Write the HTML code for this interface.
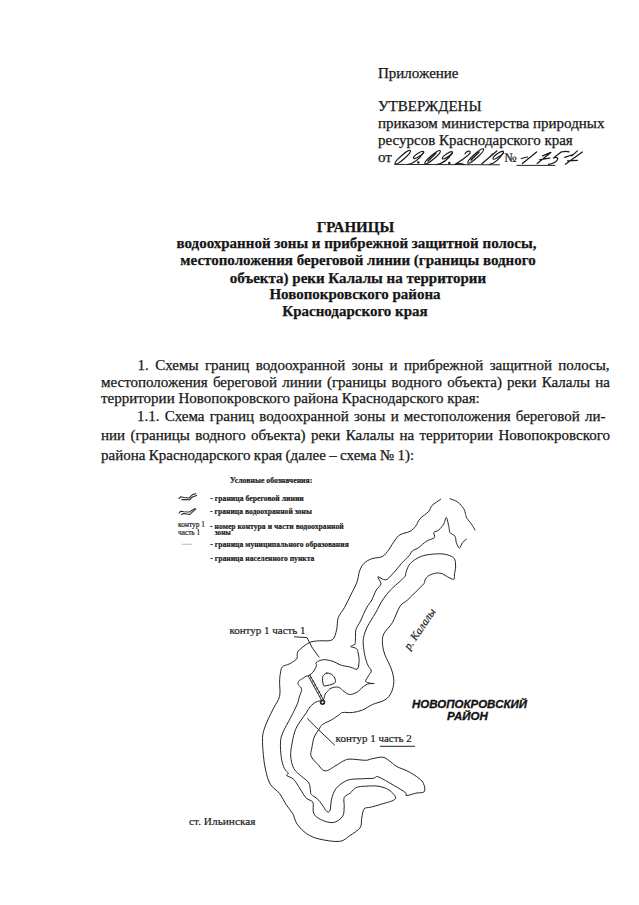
<!DOCTYPE html>
<html><head><meta charset="utf-8">
<style>
html,body{margin:0;padding:0;background:#fff;}
body{width:639px;height:905px;position:relative;overflow:hidden;font-family:"Liberation Serif",serif;color:#161616;}
.t{position:absolute;white-space:nowrap;font-size:15px;line-height:20px;height:20px;-webkit-text-stroke:0.25px #161616;}
.j{text-align:justify;text-align-last:justify;white-space:normal;}
.b{font-weight:bold;}
svg{position:absolute;left:0;top:0;}
</style></head><body>
<div class="t" style="left:378px;top:62.64px">Приложение</div>
<div class="t" style="left:378px;top:95.64px">УТВЕРЖДЕНЫ</div>
<div class="t" style="left:378px;top:112.94px">приказом министерства природных</div>
<div class="t" style="left:378px;top:129.64px">ресурсов Краснодарского края</div>
<div class="t" style="left:378px;top:147.24px">от</div>
<div class="t b" style="left:0;width:711px;text-align:center;top:217.44px">ГРАНИЦЫ</div>
<div class="t b" style="left:0;width:713px;text-align:center;top:233.44px">водоохранной зоны и прибрежной защитной полосы,</div>
<div class="t b" style="left:0;width:716px;text-align:center;top:250.24px">местоположения береговой линии (границы водного</div>
<div class="t b" style="left:0;width:716px;text-align:center;top:267.54px">объекта) реки Калалы на территории</div>
<div class="t b" style="left:0;width:710px;text-align:center;top:284.44px">Новопокровского района</div>
<div class="t b" style="left:0;width:710px;text-align:center;top:301.34px">Краснодарского края</div>
<div class="t j" style="left:137.5px;width:472px;top:354.54px">1. Схемы границ водоохранной зоны и прибрежной защитной полосы,</div>
<div class="t j" style="left:101px;width:509px;top:371.74px">местоположения береговой линии (границы водного объекта) реки Калалы на</div>
<div class="t" style="left:101px;top:388.44px">территории Новопокровского района Краснодарского края:</div>
<div class="t j" style="left:137px;width:468.5px;top:405.74px">1.1. Схема границ водоохранной зоны и местоположения береговой ли-</div>
<div class="t j" style="left:101px;width:509px;top:425.34px">нии (границы водного объекта) реки Калалы на территории Новопокровского</div>
<div class="t" style="left:101px;top:445.14px;word-spacing:-0.35px">района Краснодарского края (далее – схема № 1):</div>
<svg width="639" height="905" viewBox="0 0 639 905">
<g fill="none" stroke="#262626" stroke-width="1" stroke-linejoin="round" stroke-linecap="round">
<path d="M475.0 530.0 C474.4 529.0 472.7 525.8 471.3 523.8 C469.9 521.8 467.8 519.7 466.9 518.1 C465.9 516.5 466.1 515.9 465.6 514.4 C465.1 512.9 465.2 510.9 463.8 508.8 C462.4 506.7 459.8 503.6 457.5 501.9 C455.2 500.2 451.2 499.3 450.0 498.8 M440.6 499.4 C439.2 500.4 433.9 503.6 431.9 505.6 C429.9 507.6 430.8 509.1 428.8 511.3 C426.8 513.5 422.2 516.3 420.0 518.8 C417.8 521.3 417.3 524.2 415.6 526.3 C413.9 528.4 412.6 529.9 410.0 531.3 C407.4 532.7 402.5 533.3 400.0 534.8 C397.5 536.2 397.0 537.6 395.1 540.0 C393.2 542.4 391.0 546.7 388.9 549.4 C386.8 552.1 385.5 554.8 382.6 556.4 C379.7 558.0 374.7 557.6 371.6 558.8 C368.5 560.0 365.8 561.4 363.8 563.5 C361.8 565.6 360.6 568.1 359.5 571.2 C358.4 574.3 358.4 578.1 357.0 582.0 C355.6 585.9 353.1 590.2 351.0 594.5 C348.9 598.8 346.6 603.6 344.5 607.5 C342.4 611.4 339.5 614.1 338.2 617.8 C336.9 621.5 337.6 626.1 336.6 629.8 C335.6 633.5 335.1 638.1 332.2 639.9 C329.3 641.7 323.0 640.4 319.2 640.8 C315.4 641.2 312.9 641.0 309.6 642.5 C306.3 644.0 301.3 648.1 299.2 650.0 C297.1 651.9 297.6 652.6 297.2 654.1 C296.8 655.6 297.9 657.4 296.6 659.0 C295.3 660.6 291.8 662.6 289.4 663.9 C287.0 665.2 283.9 665.1 282.4 666.8 C280.9 668.4 280.8 671.2 280.3 673.8 C279.8 676.4 279.7 678.5 279.6 682.3 C279.5 686.0 280.6 692.1 279.6 696.3 C278.7 700.5 275.8 703.8 273.9 707.6 C272.0 711.4 269.9 715.3 268.3 718.9 C266.7 722.5 265.1 726.1 264.1 729.4 C263.1 732.7 262.6 734.6 262.5 738.8 C262.4 743.0 262.8 749.2 263.3 754.4 C263.8 759.6 264.4 765.1 265.6 770.1 C266.8 775.1 268.0 780.3 270.3 784.2 C272.6 788.1 277.1 790.2 279.7 793.6 C282.3 797.0 283.9 801.2 286.0 804.5 C288.1 807.8 290.6 809.9 292.5 813.2 C294.4 816.5 294.8 820.8 297.2 824.2 C299.6 827.6 303.0 831.1 306.6 833.6 C310.2 836.1 313.6 837.7 319.1 839.0 C324.6 840.3 334.4 842.0 339.5 841.4 C344.6 840.8 346.6 837.8 350.0 835.5 C353.4 833.2 358.2 830.5 360.2 827.6 C362.1 824.7 361.0 821.3 361.7 818.2 C362.4 815.1 362.7 810.7 364.1 808.9 C365.5 807.1 367.4 808.1 370.3 807.3 C373.2 806.5 377.1 805.6 381.3 804.2 C385.5 802.8 394.1 801.1 395.4 798.7 C396.7 796.4 392.0 792.2 389.1 790.1 C386.2 788.0 382.1 786.9 378.2 786.2 C374.3 785.6 369.2 786.0 365.6 786.2 C362.0 786.4 358.8 786.4 356.3 787.5 C353.8 788.6 352.4 791.2 350.4 792.9 C348.4 794.6 345.2 795.2 344.2 797.6 C343.2 800.0 344.5 803.9 344.2 807.0 C343.9 810.1 344.4 813.7 342.6 816.3 C340.8 818.9 336.9 822.1 333.2 822.6 C329.5 823.1 324.0 821.1 320.7 819.5 C317.4 817.9 314.9 816.1 313.6 813.2 C312.3 810.3 314.1 804.8 312.9 802.3 C311.7 799.8 308.4 800.4 306.3 798.2 C304.2 796.0 302.2 792.0 300.1 788.9 C298.0 785.8 296.0 781.7 293.8 779.5 C291.6 777.3 287.7 776.6 286.8 775.6 C285.9 774.6 288.7 774.4 288.3 773.2 C287.9 772.0 285.6 771.1 284.4 768.5 C283.2 765.9 281.9 762.0 281.3 757.6 C280.7 753.2 280.2 746.1 280.5 741.9 C280.8 737.7 281.3 736.4 282.9 732.5 C284.5 728.6 288.2 722.3 290.2 718.5 C292.1 714.7 293.3 712.5 294.6 709.8 C295.9 707.1 297.1 704.6 297.9 702.5 C298.7 700.4 298.6 698.9 299.2 697.1 C299.8 695.3 300.9 693.3 301.2 691.8 C301.5 690.3 301.7 689.1 301.2 687.9 C300.7 686.7 298.6 685.6 298.2 684.5 C297.8 683.4 297.9 682.2 298.6 681.2 C299.3 680.2 301.4 679.4 302.6 678.6 C303.8 677.8 304.9 676.8 305.9 676.3 C306.9 675.8 307.6 676.0 308.5 675.6 C309.4 675.2 310.2 674.8 311.2 673.9 C312.2 673.0 313.6 671.4 314.5 670.0 C315.4 668.6 316.2 666.5 316.5 665.3 C316.8 664.0 315.1 663.4 316.2 662.5 C317.3 661.6 320.4 659.9 323.2 659.7 C326.0 659.5 330.1 660.4 333.0 661.3 C335.9 662.2 337.4 663.9 340.3 664.9 C343.2 665.9 347.9 666.5 350.7 667.2 C353.5 667.9 355.8 670.0 357.2 669.1 C358.6 668.2 358.9 664.3 359.1 661.6 C359.3 658.9 358.7 655.3 358.2 653.1 C357.7 650.9 357.6 649.6 356.3 648.5 C355.1 647.4 350.9 647.3 350.7 646.6 C350.5 645.9 354.1 645.3 354.9 644.2 C355.7 643.1 355.2 642.5 355.4 640.0 C355.6 637.5 355.1 632.7 356.0 629.5 C356.9 626.3 358.8 624.6 360.5 621.0 C362.2 617.4 364.6 611.5 366.5 608.0 C368.4 604.5 370.2 603.0 371.8 600.0 C373.4 597.0 374.8 592.7 376.3 590.0 C377.8 587.3 380.7 586.0 381.0 583.8 C381.3 581.6 377.1 577.4 377.9 576.8 C378.7 576.1 383.1 580.5 385.7 579.9 C388.3 579.2 391.0 575.6 393.6 572.9 C396.2 570.2 398.8 566.4 401.4 563.5 C404.0 560.6 407.4 557.7 409.2 555.6 C411.0 553.5 410.7 552.3 412.3 551.0 C413.9 549.7 416.4 549.2 418.7 547.6 C421.0 546.0 423.7 543.0 426.3 541.3 C428.9 539.6 433.1 539.0 434.4 537.5 C435.6 536.0 433.1 533.8 433.8 532.5 C434.5 531.2 437.1 531.5 438.8 530.0 C440.5 528.5 442.6 525.9 443.8 523.8 C445.1 521.7 445.5 517.1 446.3 517.5 C447.1 517.9 448.2 523.8 448.8 526.3 C449.4 528.8 449.0 530.8 450.0 532.5 C451.0 534.2 453.9 534.6 455.0 536.3 C456.1 538.0 455.6 540.5 456.3 542.5 C457.0 544.5 458.4 548.1 459.4 548.1 C460.4 548.1 461.4 544.0 462.5 542.5 C463.6 541.0 465.7 539.9 466.3 539.4"/>
<path d="M455.6 567.5 C455.5 566.2 455.7 561.9 455.0 560.0 C454.3 558.1 453.6 557.3 451.3 556.3 C449.0 555.3 445.5 554.0 441.3 553.8 C437.1 553.6 430.3 554.3 426.3 555.0 C422.3 555.7 420.2 556.6 417.5 558.1 C414.8 559.6 411.9 561.6 410.0 563.8 C408.1 566.0 407.1 569.2 406.3 571.3 C405.5 573.4 406.1 574.6 405.0 576.3 C403.9 578.0 402.4 579.0 400.0 581.3 C397.6 583.6 393.3 587.0 390.4 590.1 C387.5 593.2 385.1 596.2 382.6 600.0 C380.1 603.8 378.1 608.5 375.5 613.0 C372.9 617.5 369.2 622.8 367.2 627.0 C365.2 631.2 364.0 634.8 363.4 638.5 C362.8 642.2 363.4 645.9 363.8 649.5 C364.2 653.1 365.2 657.2 366.0 660.0 C366.8 662.8 367.6 664.5 368.5 666.3 C369.4 668.1 371.3 669.4 371.3 671.0 C371.3 672.6 369.4 674.0 368.5 675.7 C367.6 677.4 365.4 680.0 365.7 681.3 C366.0 682.5 369.0 682.8 370.4 683.2 C371.8 683.6 374.7 683.4 374.2 683.5 C373.7 683.6 369.7 683.4 367.6 684.1 C365.6 684.8 363.6 686.6 361.9 687.9 C360.2 689.2 359.2 691.0 357.2 692.1 C355.2 693.2 351.9 694.6 349.7 694.5 C347.5 694.4 346.0 692.8 344.1 691.6 C342.2 690.4 340.7 687.8 338.5 687.2 C336.3 686.6 332.8 687.5 331.0 688.2 C329.2 688.9 328.5 690.5 327.5 691.5 C326.5 692.5 325.9 692.7 325.2 694.0 C324.5 695.3 324.3 698.4 323.5 699.5 C322.7 700.6 321.7 700.4 320.5 700.8 C319.3 701.2 318.0 701.0 316.3 701.9 C314.6 702.8 312.2 704.4 310.5 706.2 C308.8 708.0 308.0 710.3 306.3 712.8 C304.6 715.3 302.3 718.2 300.5 721.0 C298.7 723.8 297.0 725.9 295.6 729.4 C294.2 732.9 293.1 737.5 292.3 741.9 C291.5 746.3 290.4 751.6 290.7 756.0 C290.9 760.4 292.0 765.1 293.8 768.5 C295.6 771.9 299.2 774.1 301.7 776.5 C304.2 778.9 307.2 780.2 308.7 782.6 C310.2 785.0 310.1 789.0 310.5 791.0 C310.9 793.0 310.1 793.0 311.3 794.4 C312.5 795.8 315.8 797.4 317.6 799.1 C319.4 800.8 320.4 802.4 322.0 804.5 C323.6 806.6 325.6 810.7 327.0 811.6 C328.4 812.5 329.3 812.2 330.1 810.1 C330.9 808.0 330.6 802.8 331.6 799.1 C332.6 795.5 333.7 791.3 336.3 788.2 C338.9 785.1 343.1 781.9 347.3 780.3 C351.5 778.7 357.0 779.1 361.4 778.8 C365.8 778.5 370.7 778.6 373.5 778.3 C376.3 778.0 374.8 775.6 378.2 776.8 C381.6 778.0 389.2 782.8 393.8 785.4 C398.4 788.0 403.4 790.9 405.5 792.6 C407.6 794.3 404.6 795.5 406.3 795.6 C408.0 795.7 412.7 793.9 415.7 793.2 C418.7 792.5 423.0 793.2 424.3 791.6 C425.6 790.0 424.5 786.0 423.6 783.8 C422.7 781.6 421.5 780.4 418.9 778.3 C416.3 776.2 411.6 773.2 407.9 771.3 C404.2 769.3 399.8 768.2 396.9 766.6 C394.0 765.0 393.0 763.5 390.7 761.9 C388.4 760.3 386.0 757.7 382.9 757.2 C379.8 756.7 374.8 758.3 371.9 758.8 C369.0 759.3 369.2 760.2 365.6 760.3 C362.0 760.3 353.6 759.0 350.0 759.1 C346.4 759.2 346.2 759.7 343.9 760.7 C341.6 761.8 339.2 763.7 336.1 765.4 C333.0 767.1 328.2 771.2 325.1 770.9 C322.0 770.6 319.7 766.3 317.3 763.8 C314.9 761.3 311.9 758.6 311.0 756.0 C310.1 753.4 311.3 751.3 311.8 748.2 C312.3 745.1 313.0 740.3 314.2 737.2 C315.4 734.1 317.5 731.5 318.9 729.4 C320.3 727.3 320.4 726.1 322.5 724.5 C324.6 722.9 328.6 721.6 331.3 720.0 C334.0 718.4 336.9 716.2 338.8 715.0 C340.7 713.8 340.2 712.9 342.5 712.5 C344.8 712.1 349.2 712.9 352.5 712.5 C355.8 712.1 359.2 711.3 362.5 710.0 C365.8 708.7 368.8 706.2 372.5 704.5 C376.2 702.8 381.9 701.9 385.0 699.9 C388.1 697.9 389.8 695.6 391.3 692.5 C392.8 689.4 393.8 685.2 393.8 681.3 C393.8 677.3 392.8 673.2 391.3 668.8 C389.8 664.4 386.5 659.2 385.0 655.0 C383.5 650.8 382.7 647.3 382.5 643.8 C382.3 640.3 382.1 637.3 383.8 633.8 C385.5 630.2 389.8 627.1 392.5 622.5 C395.2 617.9 397.5 610.0 400.0 606.3 C402.5 602.5 404.8 602.5 407.5 600.0 C410.2 597.5 413.6 594.0 416.3 591.3 C419.0 588.6 422.4 585.7 423.8 583.8 C425.2 581.9 424.2 581.4 425.0 580.0 C425.8 578.6 426.9 576.8 428.8 575.6 C430.7 574.5 434.0 573.4 436.3 573.1 C438.6 572.8 440.6 573.2 442.5 573.8 C444.4 574.4 445.6 576.0 447.5 576.9 C449.4 577.8 452.7 579.7 453.8 579.4 C454.9 579.1 454.1 577.0 454.4 575.0 C454.7 573.0 455.4 568.8 455.6 567.5"/>
<path d="M294.5 636.8 L307 637.6 L312.5 648.2 L319 657"/>
<path d="M307.5 718.8 L318.8 730 L334.5 745"/>
<path d="M326.8 673.1 C323.5 673.8 322 677 322.5 680 C322.8 683 323.3 685.5 324.2 686.1 C328 685.5 332 684.5 334.5 683.3 C336 682 336 679 333.1 675.6 C331 673.8 329 672.9 326.8 673.1 Z"/>
<path d="M308.3 676 L321.6 700.4"/>
<path d="M309.9 675.1 L323.4 699.8"/>
<path d="M310.5 678 L311.8 677.2 M312.5 681.6 L313.8 680.8 M314.5 685.2 L315.8 684.4 M316.5 688.8 L317.8 688 M318.5 692.4 L319.8 691.6 M320.5 696 L321.8 695.2" stroke-width="0.8"/>
<circle cx="322.5" cy="702.3" r="1.9" stroke-width="1.7"/>
<path d="M380.3 746.3 L414.7 746.3"/>
<path d="M394.7 164.4 L499.5 164.8 M516.8 165.4 L554.9 165.4"/>
</g>
<!-- handwriting -->
<g fill="none" stroke="#1a1a1a" stroke-width="1.25" stroke-linecap="round" stroke-linejoin="round">
<ellipse cx="402.8" cy="157.2" rx="10" ry="2" transform="rotate(-41 402.8 157.2)"/>
<ellipse cx="418.6" cy="154.9" rx="6" ry="1.6" transform="rotate(-33 418.6 154.9)"/>
<path d="M423.5 152.5 C420 158 414 163.5 407.5 164.5"/>
<ellipse cx="432.6" cy="157.3" rx="10" ry="2" transform="rotate(-40 432.6 157.3)"/>
<path d="M428 161 L436 153" stroke-width="1.6"/>
<ellipse cx="447.4" cy="155.3" rx="6" ry="1.6" transform="rotate(-33 447.4 155.3)"/>
<path d="M452.3 152.8 C449 158 443 163.5 436.5 164.5"/>
<path d="M465 153.8 C466.5 151 471 150 470 153 C467 157 460 161 455 164.4 C458 163.5 461 163 464 164.5"/>
<ellipse cx="475.7" cy="156" rx="10.5" ry="2" transform="rotate(-42 475.7 156)"/>
<path d="M471 160 L479 152" stroke-width="1.6"/>
<path d="M481.8 163.7 L496.8 151 M491 155.5 L493 153.8"/>
<ellipse cx="498.3" cy="155.2" rx="6.3" ry="1.7" transform="rotate(-35 498.3 155.2)"/>
<path d="M503.5 152.5 C500 158 495 163.5 489.5 164.4"/>
<path d="M521.3 158.5 L527.5 157 M522.4 163.5 L536.6 152"/>
<path d="M542.6 155.9 L550.9 152.4 L537.2 163.5 M539.9 159.7 L549.8 158.2"/>
<path d="M561.2 152 C564 151.2 567 151 569 151.8 M561.2 152 L553.5 158 C556 157 558.5 157.5 557.5 159.5 C556 162 552.5 163.8 548.5 164.4"/>
<path d="M564.7 157.3 L573.2 154.5 M582.3 152 L565.4 164.3 M577.4 150.9 L571.8 155.9 M567.5 160.8 L577.4 160.4"/>
<circle cx="418.3" cy="162.4" r="0.6" fill="#1a1a1a"/>
<circle cx="449.3" cy="162.9" r="0.6" fill="#1a1a1a"/>
</g>
<g font-family="Liberation Serif" fill="#1a1a1a" stroke="#1a1a1a" stroke-width="0.2">
<text x="229.4" y="633.5" font-size="11">контур 1 часть 1</text>
<text x="335.6" y="741.9" font-size="11">контур 1 часть 2</text>
<text x="189.1" y="825" font-size="11.3">ст. Ильинская</text>
<text x="0" y="0" font-size="11.2" font-style="italic" transform="translate(409.6 650.6) rotate(-56)">р. Калалы</text>
<text x="504.5" y="162.2" font-size="13">№</text>
</g>
<g font-family="Liberation Sans" font-weight="bold" font-style="italic" fill="#111" font-size="11.5" stroke="#111" stroke-width="0.3">
<text x="412" y="708">НОВОПОКРОВСКИЙ</text>
<text x="447.1" y="719.6">РАЙОН</text>
</g>
<g font-family="Liberation Serif" font-weight="bold" fill="#1a1a1a" font-size="8.6" stroke="#1a1a1a" stroke-width="0.2">
<text x="230" y="483" font-size="7.8" textLength="82.3" lengthAdjust="spacingAndGlyphs">Условные обозначения:</text>
<text x="210.3" y="500.7" textLength="93.5" lengthAdjust="spacingAndGlyphs">- граница береговой линии</text>
<text x="210.1" y="513.7" textLength="101.8" lengthAdjust="spacingAndGlyphs">- граница водоохранной зоны</text>
<text x="210.1" y="529.2" textLength="133.7" lengthAdjust="spacingAndGlyphs">- номер контура и части водоохранной</text>
<text x="214.8" y="535.2" textLength="16" lengthAdjust="spacingAndGlyphs">зоны</text>
<text x="210.3" y="546.6" textLength="138.5" lengthAdjust="spacingAndGlyphs">- граница муниципального образования</text>
<text x="210.3" y="560.5" textLength="104.1" lengthAdjust="spacingAndGlyphs">- граница населенного пункта</text>
</g>
<g font-family="Liberation Serif" fill="#1a1a1a" font-size="8.2" stroke="#1a1a1a" stroke-width="0.2">
<text x="178" y="526.8" textLength="27" lengthAdjust="spacingAndGlyphs">контур 1</text>
<text x="178" y="534.8" textLength="22.2" lengthAdjust="spacingAndGlyphs">часть 1</text>
</g>
<g fill="none" stroke="#222" stroke-width="1.05" stroke-linecap="round" stroke-linejoin="round">
<path d="M178.9 498.5 L180.7 496.8 L183.8 497.4 L189 498.1 L192.5 494.6 L196 493.7"/>
<path d="M181.6 499.8 L183.8 499.6 L189.5 499.8 L192.5 496.9 L196.5 495.5"/>
<path d="M179.2 513 L180.7 511.2 L183.8 511.7 L189.5 512.1 L191.7 510.4 L195.2 508.4"/>
<path d="M181.4 514.5 L183.8 513.6 L189.9 514.5 L192.5 511.9 L195.6 509.1"/>
<path d="M182 544.3 L192 544.3" stroke="#bbb"/>
</g>
</svg>
</body></html>
